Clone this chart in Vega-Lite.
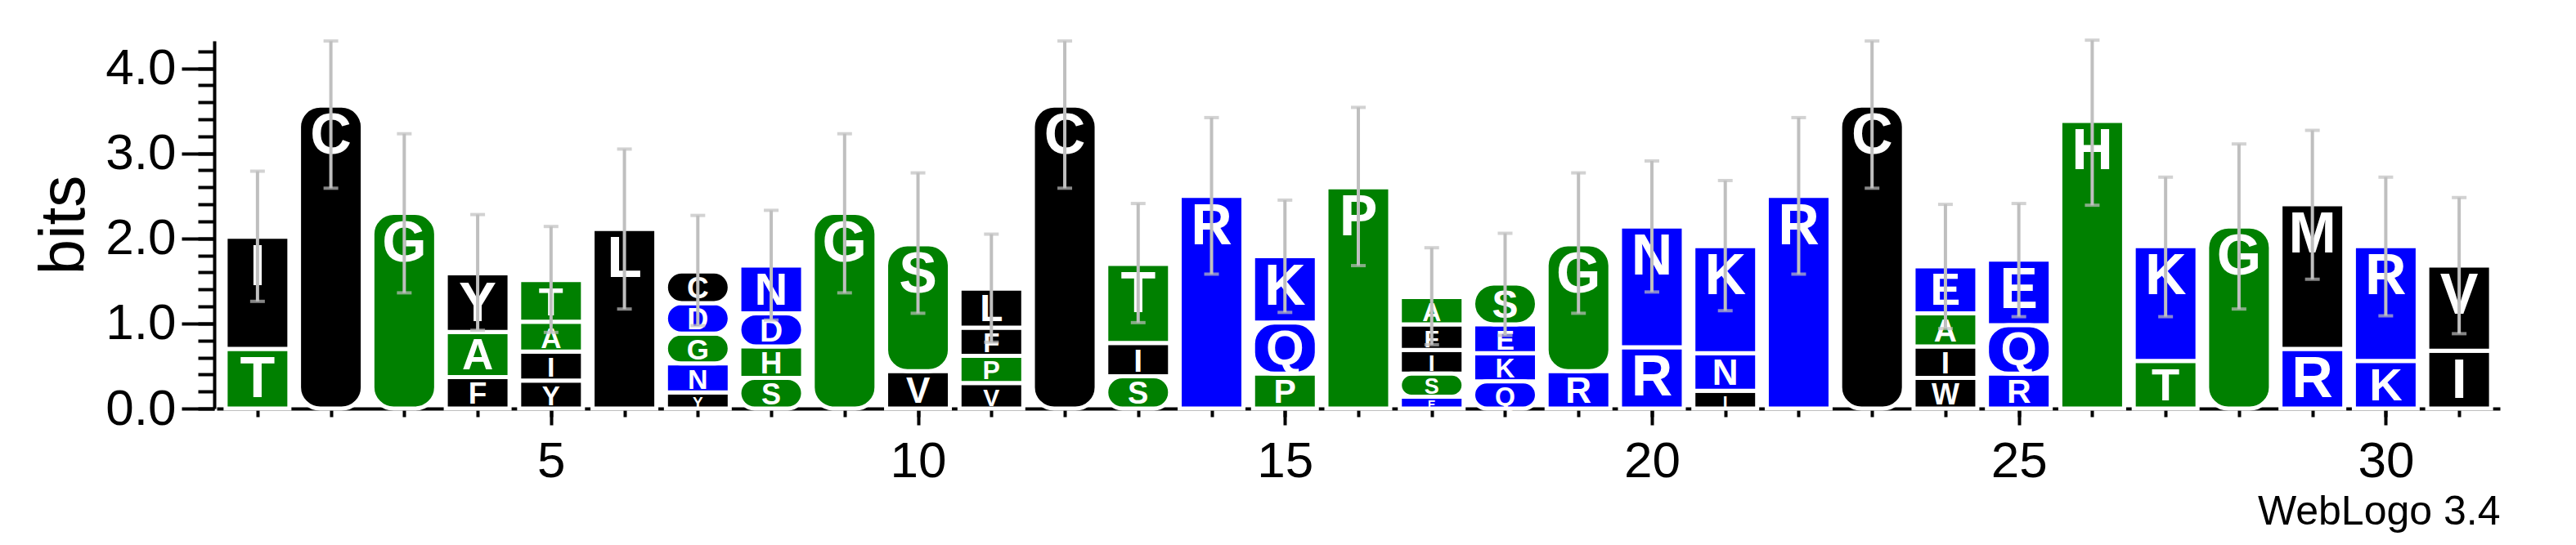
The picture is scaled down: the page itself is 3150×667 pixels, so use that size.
{
  "$schema": "https://vega.github.io/schema/vega-lite/v6.json",
  "width": 2792,
  "height": 450,
  "autosize": {"type": "none"},
  "padding": {"left": 265, "top": 50, "right": 93, "bottom": 167},
  "background": "white",
  "config": {"view": {"stroke": null}, "font": "Liberation Sans"},
  "datasets": {
    "letters": [
      {"pos": 1, "letter": "T", "bits": 0.70}, {"pos": 1, "letter": "I", "bits": 1.32},
      {"pos": 2, "letter": "C", "bits": 3.56},
      {"pos": 3, "letter": "G", "bits": 2.30},
      {"pos": 4, "letter": "F", "bits": 0.37}, {"pos": 4, "letter": "A", "bits": 0.53}, {"pos": 4, "letter": "Y", "bits": 0.69},
      {"pos": 5, "letter": "Y", "bits": 0.33}, {"pos": 5, "letter": "I", "bits": 0.34}, {"pos": 5, "letter": "A", "bits": 0.35}, {"pos": 5, "letter": "T", "bits": 0.49},
      {"pos": 6, "letter": "L", "bits": 2.11},
      {"pos": 7, "letter": "Y", "bits": 0.19}, {"pos": 7, "letter": "N", "bits": 0.34}, {"pos": 7, "letter": "G", "bits": 0.35}, {"pos": 7, "letter": "D", "bits": 0.36}, {"pos": 7, "letter": "C", "bits": 0.37},
      {"pos": 8, "letter": "S", "bits": 0.36}, {"pos": 8, "letter": "H", "bits": 0.37}, {"pos": 8, "letter": "D", "bits": 0.39}, {"pos": 8, "letter": "N", "bits": 0.56},
      {"pos": 9, "letter": "G", "bits": 2.30},
      {"pos": 10, "letter": "V", "bits": 0.44}, {"pos": 10, "letter": "S", "bits": 1.49},
      {"pos": 11, "letter": "V", "bits": 0.30}, {"pos": 11, "letter": "P", "bits": 0.32}, {"pos": 11, "letter": "F", "bits": 0.33}, {"pos": 11, "letter": "L", "bits": 0.46},
      {"pos": 12, "letter": "C", "bits": 3.56},
      {"pos": 13, "letter": "S", "bits": 0.38}, {"pos": 13, "letter": "I", "bits": 0.39}, {"pos": 13, "letter": "T", "bits": 0.93},
      {"pos": 14, "letter": "R", "bits": 2.50},
      {"pos": 15, "letter": "P", "bits": 0.41}, {"pos": 15, "letter": "Q", "bits": 0.60}, {"pos": 15, "letter": "K", "bits": 0.78},
      {"pos": 16, "letter": "P", "bits": 2.60},
      {"pos": 17, "letter": "E", "bits": 0.14}, {"pos": 17, "letter": "S", "bits": 0.27}, {"pos": 17, "letter": "I", "bits": 0.28}, {"pos": 17, "letter": "F", "bits": 0.30}, {"pos": 17, "letter": "A", "bits": 0.32},
      {"pos": 18, "letter": "Q", "bits": 0.32}, {"pos": 18, "letter": "K", "bits": 0.33}, {"pos": 18, "letter": "E", "bits": 0.34}, {"pos": 18, "letter": "S", "bits": 0.48},
      {"pos": 19, "letter": "R", "bits": 0.44}, {"pos": 19, "letter": "G", "bits": 1.49},
      {"pos": 20, "letter": "R", "bits": 0.72}, {"pos": 20, "letter": "N", "bits": 1.42},
      {"pos": 21, "letter": "I", "bits": 0.21}, {"pos": 21, "letter": "N", "bits": 0.44}, {"pos": 21, "letter": "K", "bits": 1.26},
      {"pos": 22, "letter": "R", "bits": 2.50},
      {"pos": 23, "letter": "C", "bits": 3.56},
      {"pos": 24, "letter": "W", "bits": 0.36}, {"pos": 24, "letter": "I", "bits": 0.37}, {"pos": 24, "letter": "A", "bits": 0.39}, {"pos": 24, "letter": "E", "bits": 0.55},
      {"pos": 25, "letter": "R", "bits": 0.41}, {"pos": 25, "letter": "Q", "bits": 0.57}, {"pos": 25, "letter": "E", "bits": 0.77},
      {"pos": 26, "letter": "H", "bits": 3.38},
      {"pos": 27, "letter": "T", "bits": 0.56}, {"pos": 27, "letter": "K", "bits": 1.35},
      {"pos": 28, "letter": "G", "bits": 2.14},
      {"pos": 29, "letter": "R", "bits": 0.70}, {"pos": 29, "letter": "M", "bits": 1.70},
      {"pos": 30, "letter": "K", "bits": 0.56}, {"pos": 30, "letter": "R", "bits": 1.35},
      {"pos": 31, "letter": "I", "bits": 0.68}, {"pos": 31, "letter": "V", "bits": 1.00}
    ],
    "errors": [
      {"pos": 1, "lo": 1.26, "hi": 2.79}, {"pos": 2, "lo": 2.59, "hi": 4.32}, {"pos": 3, "lo": 1.36, "hi": 3.23},
      {"pos": 4, "lo": 0.92, "hi": 2.28}, {"pos": 5, "lo": 0.895, "hi": 2.14}, {"pos": 6, "lo": 1.17, "hi": 3.05},
      {"pos": 7, "lo": 0.975, "hi": 2.27}, {"pos": 8, "lo": 1.04, "hi": 2.33}, {"pos": 9, "lo": 1.36, "hi": 3.23},
      {"pos": 10, "lo": 1.12, "hi": 2.77}, {"pos": 11, "lo": 0.78, "hi": 2.05}, {"pos": 12, "lo": 2.59, "hi": 4.32},
      {"pos": 13, "lo": 1.01, "hi": 2.41}, {"pos": 14, "lo": 1.58, "hi": 3.42}, {"pos": 15, "lo": 1.13, "hi": 2.45},
      {"pos": 16, "lo": 1.68, "hi": 3.54}, {"pos": 17, "lo": 0.75, "hi": 1.89}, {"pos": 18, "lo": 0.86, "hi": 2.06},
      {"pos": 19, "lo": 1.12, "hi": 2.77}, {"pos": 20, "lo": 1.37, "hi": 2.91}, {"pos": 21, "lo": 1.15, "hi": 2.68},
      {"pos": 22, "lo": 1.58, "hi": 3.42}, {"pos": 23, "lo": 2.59, "hi": 4.32}, {"pos": 24, "lo": 0.94, "hi": 2.40},
      {"pos": 25, "lo": 1.08, "hi": 2.41}, {"pos": 26, "lo": 2.39, "hi": 4.33}, {"pos": 27, "lo": 1.08, "hi": 2.72},
      {"pos": 28, "lo": 1.17, "hi": 3.11}, {"pos": 29, "lo": 1.52, "hi": 3.27}, {"pos": 30, "lo": 1.09, "hi": 2.72},
      {"pos": 31, "lo": 0.88, "hi": 2.48}
    ]
  },
  "resolve": {"axis": {"x": "independent", "y": "independent"}},
  "layer": [
    {
      "data": {"name": "letters"},
      "transform": [
        {"stack": "bits", "groupby": ["pos"], "sort": [{"field": "bits", "order": "ascending"}], "as": ["b0", "b1"]},
        {"filter": {"not": {"field": "letter", "oneOf": ["C", "G", "S", "Q", "D"]}}}
      ],
      "mark": {"type": "bar", "width": 78, "stroke": "white", "strokeWidth": 5},
      "encoding": {
        "x": {"field": "pos", "type": "quantitative", "scale": {"domain": [0.5, 31.5], "nice": false, "zero": false},
          "axis": {"values": [5, 10, 15, 20, 25, 30], "orient": "bottom", "format": "d", "tickSize": 20, "tickWidth": 4, "tickColor": "black", "domain": false, "grid": false,
            "labelFontSize": 62, "labelColor": "black", "labelFont": "Liberation Sans", "labelPadding": 14, "labelFlush": false, "labelOverlap": false,
            "title": "WebLogo 3.4", "titleFontSize": 50, "titleFontWeight": "normal", "titleFont": "Liberation Sans", "titleColor": "black", "titleAnchor": "end", "titlePadding": 6}},
        "y": {"field": "b0", "type": "quantitative", "scale": {"domain": [0, 4.3219], "nice": false, "zero": true},
          "axis": {"values": [0, 1, 2, 3, 4], "orient": "left", "offset": 3, "format": ".1f", "tickSize": 40, "tickWidth": 4, "tickColor": "black", "domain": true, "domainWidth": 4, "domainColor": "black", "grid": false,
            "labelFontSize": 62, "labelColor": "black", "labelFont": "Liberation Sans", "labelPadding": 7, "labelFlush": false, "labelOverlap": false,
            "title": "bits", "titleFontSize": 78, "titleFontWeight": "normal", "titleFont": "Liberation Sans", "titleColor": "black", "titlePadding": 10}},
        "y2": {"field": "b1"},
        "color": {"field": "letter", "type": "nominal", "legend": null,
          "scale": {"domain": ["A", "C", "D", "E", "F", "G", "H", "I", "K", "L", "M", "N", "P", "Q", "R", "S", "T", "V", "W", "Y"],
            "range": ["#008000", "#000000", "#0000FF", "#0000FF", "#000000", "#008000", "#008000", "#000000", "#0000FF", "#000000", "#000000", "#0000FF", "#008000", "#0000FF", "#0000FF", "#008000", "#008000", "#000000", "#000000", "#000000"]}}
      }
    },
    {
      "data": {"name": "letters"},
      "transform": [
        {"stack": "bits", "groupby": ["pos"], "sort": [{"field": "bits", "order": "ascending"}], "as": ["b0", "b1"]},
        {"filter": {"field": "letter", "oneOf": ["C", "G", "S", "Q", "D"]}}
      ],
      "mark": {"type": "bar", "width": 78, "stroke": "white", "strokeWidth": 5, "cornerRadius": 26},
      "encoding": {
        "x": {"field": "pos", "type": "quantitative", "axis": null},
        "y": {"field": "b0", "type": "quantitative", "axis": null},
        "y2": {"field": "b1"},
        "color": {"field": "letter", "type": "nominal", "legend": null}
      }
    },
    {
      "data": {"name": "letters"},
      "transform": [
        {"stack": "bits", "groupby": ["pos"], "sort": [{"field": "bits", "order": "ascending"}], "as": ["b0", "b1"]}
      ],
      "mark": {"type": "text", "color": "white", "fontWeight": "bold", "font": "Liberation Sans", "baseline": "top", "dy": 4},
      "encoding": {
        "x": {"field": "pos", "type": "quantitative", "axis": null},
        "y": {"field": "b1", "type": "quantitative", "axis": null},
        "text": {"field": "letter"},
        "size": {"field": "bits", "type": "quantitative", "legend": null, "scale": {"domain": [0, 0.7], "range": [0, 70], "clamp": true}}
      }
    },
    {
      "data": {"name": "errors"},
      "mark": {"type": "rule", "color": "#BFBFBF", "strokeWidth": 4},
      "encoding": {
        "x": {"field": "pos", "type": "quantitative",
          "axis": {"values": [1,2,3,4,5,6,7,8,9,10,11,12,13,14,15,16,17,18,19,20,21,22,23,24,25,26,27,28,29,30,31], "orient": "bottom", "tickSize": 10, "tickWidth": 4, "tickColor": "black", "domain": true, "domainWidth": 4, "domainColor": "black", "labels": false, "grid": false, "title": null}},
        "y": {"field": "lo", "type": "quantitative",
          "axis": {"values": [0,0.2,0.4,0.6,0.8,1,1.2,1.4,1.6,1.8,2,2.2,2.4,2.6,2.8,3,3.2,3.4,3.6,3.8,4,4.2], "orient": "left", "offset": 3, "tickSize": 20, "tickWidth": 4, "tickColor": "black", "domain": false, "labels": false, "grid": false, "title": null}},
        "y2": {"field": "hi"}
      }
    },
    {
      "data": {"name": "errors"},
      "mark": {"type": "tick", "orient": "horizontal", "color": "#BFBFBF", "thickness": 4, "size": 18},
      "encoding": {
        "x": {"field": "pos", "type": "quantitative", "axis": null},
        "y": {"field": "lo", "type": "quantitative", "axis": null}
      }
    },
    {
      "data": {"name": "errors"},
      "mark": {"type": "tick", "orient": "horizontal", "color": "#BFBFBF", "thickness": 4, "size": 18},
      "encoding": {
        "x": {"field": "pos", "type": "quantitative", "axis": null},
        "y": {"field": "hi", "type": "quantitative", "axis": null}
      }
    }
  ]
}
